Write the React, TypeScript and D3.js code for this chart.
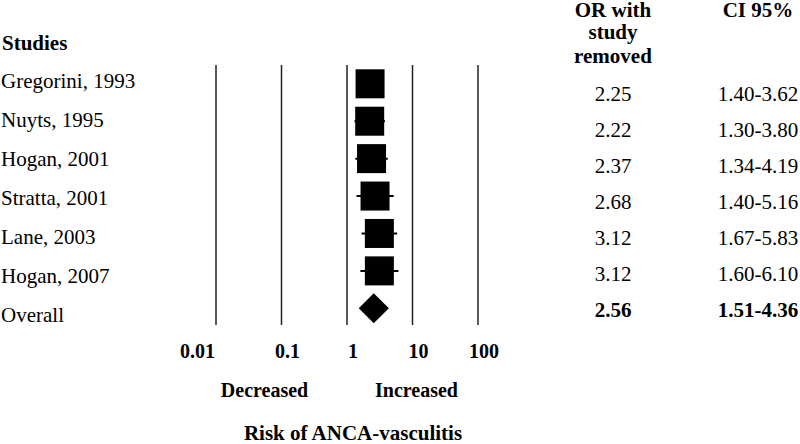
import React from "react";
import * as d3 from "d3";

const studies = ["Gregorini, 1993", "Nuyts, 1995", "Hogan, 2001", "Stratta, 2001", "Lane, 2003", "Hogan, 2007"];
const orValues = [2.25, 2.22, 2.37, 2.68, 3.12, 3.12];
const ciLow = [1.4, 1.3, 1.34, 1.4, 1.67, 1.6];
const ciHigh = [3.62, 3.8, 4.19, 5.16, 5.83, 6.1];
const overallLabel = "Overall";
const overallOR = 2.56;
const overallLow = 1.51;
const overallHigh = 4.36;
const tickValues = [0.01, 0.1, 1, 10, 100];
const tickLabels = ["0.01", "0.1", "1", "10", "100"];

const W = 800;
const H = 444;
const FONT = "'Liberation Serif', 'Times New Roman', serif";

export default function App() {
  const x = d3.scaleLog().domain([0.01, 100]).range([216, 478]);
  const nRows = studies.length + 1;
  // plot row centers
  const yPlot = d3.scaleLinear().domain([0, nRows - 1]).range([83.8, 308.3]);
  // left label baselines
  const yLeft = d3.scaleLinear().domain([0, nRows - 1]).range([88, 321.5]);
  // right column baselines
  const yRight = d3.scaleLinear().domain([0, nRows - 1]).range([100.7, 317]);

  const sq = 29;
  const fmt = d3.format(".2f");

  const diamondPath = () => {
    const cy = yPlot(nRows - 1);
    const cx = x(overallOR);
    const l = x(overallLow);
    const r = x(overallHigh);
    const h = 15;
    return `M${l},${cy}L${cx},${cy - h}L${r},${cy}L${cx},${cy + h}Z`;
  };

  return (
    <svg
      width={W}
      height={H}
      viewBox={`0 0 ${W} ${H}`}
      style={{ position: "absolute", left: 0, top: 0, display: "block", background: "#fff" }}
      fontFamily={FONT}
    >
      <rect x={0} y={0} width={W} height={H} fill="#fff" />
      {/* vertical grid lines */}
      {tickValues.map((v) => (
        <line key={v} x1={x(v)} x2={x(v)} y1={65} y2={325} stroke="#222" strokeWidth={1.5} />
      ))}
      {/* headers */}
      <text x={2} y={50} fontSize={21} fontWeight="bold" fill="#000">Studies</text>
      <text x={613} y={17} fontSize={21} fontWeight="bold" textAnchor="middle" fill="#000">OR with</text>
      <text x={613} y={39} fontSize={21} fontWeight="bold" textAnchor="middle" fill="#000">study</text>
      <text x={613} y={63} fontSize={21} fontWeight="bold" textAnchor="middle" fill="#000">removed</text>
      <text x={758} y={17} fontSize={21} fontWeight="bold" textAnchor="middle" fill="#000">CI 95%</text>

      {/* study labels */}
      {studies.map((s, i) => (
        <text key={s} x={1} y={yLeft(i)} fontSize={21} fill="#000">{s}</text>
      ))}
      <text x={1} y={yLeft(nRows - 1)} fontSize={21} fill="#000">{overallLabel}</text>

      {/* whiskers and squares */}
      {studies.map((s, i) => (
        <g key={s}>
          <line x1={x(ciLow[i])} x2={x(ciHigh[i])} y1={yPlot(i)} y2={yPlot(i)} stroke="#000" strokeWidth={2} />
          <rect x={x(orValues[i]) - sq / 2} y={yPlot(i) - sq / 2} width={sq} height={sq} fill="#000" />
        </g>
      ))}
      <path d={diamondPath()} fill="#000" />

      {/* right columns */}
      {studies.map((s, i) => (
        <g key={s}>
          <text x={613} y={yRight(i)} fontSize={21} textAnchor="middle" fill="#000">{fmt(orValues[i])}</text>
          <text x={758} y={yRight(i)} fontSize={21} textAnchor="middle" fill="#000">
            {fmt(ciLow[i])}-{fmt(ciHigh[i])}
          </text>
        </g>
      ))}
      <text x={613} y={yRight(nRows - 1)} fontSize={21} fontWeight="bold" textAnchor="middle" fill="#000">{fmt(overallOR)}</text>
      <text x={758} y={yRight(nRows - 1)} fontSize={21} fontWeight="bold" textAnchor="middle" fill="#000">
        {fmt(overallLow)}-{fmt(overallHigh)}
      </text>

      {/* tick labels */}
      {tickValues.map((v, i) => (
        <text
          key={v}
          x={i === 0 ? x(v) - 1 : x(v) + 6}
          y={358}
          fontSize={20}
          fontWeight="bold"
          textAnchor={i === 0 ? "end" : "middle"}
          fill="#000"
        >
          {tickLabels[i]}
        </text>
      ))}
      <text x={264.5} y={397} fontSize={20} fontWeight="bold" textAnchor="middle" fill="#000">Decreased</text>
      <text x={416.5} y={397} fontSize={20} fontWeight="bold" textAnchor="middle" fill="#000">Increased</text>
      <text x={353} y={440} fontSize={21} fontWeight="bold" textAnchor="middle" fill="#000">Risk of ANCA-vasculitis</text>
    </svg>
  );
}
